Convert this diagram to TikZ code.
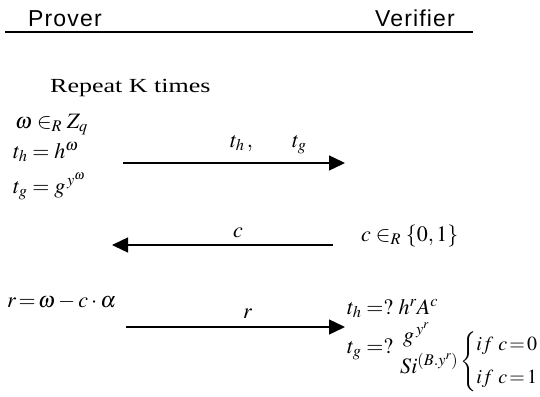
\documentclass[tikz,border=0pt]{standalone}
\usepackage{mathptmx}
\usepackage{fontspec}
\setmainfont{Liberation Serif}
\setsansfont{Liberation Sans}
\usetikzlibrary{arrows.meta}
\begin{document}
\begin{tikzpicture}[x=1pt,y=-1pt,
  hdr/.style={font=\sffamily\fontsize{23}{27}\selectfont\addfontfeature{LetterSpace=5}, inner sep=0pt},
  txt/.style={font=\fontsize{22}{26}\selectfont, inner sep=0pt, anchor=base west},
  msg/.style={line width=1.4pt, -{Triangle[length=16pt,width=15pt]}}]
\useasboundingbox (0,0) rectangle (540,396);
% header
\node[hdr, anchor=base west] (prover) at (28,27) {Prover};
\node[hdr, anchor=base east] (verifier) at (455,27) {Verifier};
\coordinate (hl) at (5,32);
\coordinate (hr) at (473,32);
\draw[line width=1.8pt] (hl) -- (hr);
% repeat
\node[txt, font=\fontsize{20}{24}\selectfont] (rep) at (50,92) {\scalebox{1.3}[1]{Repeat K times}};
% prover side
\node[txt] (w) at (15,128) {$\omega \in_R Z_q$};
\node[txt] (th) at (13,158) {$t_h = h^{\omega}$};
\node[txt] (tg) at (13,193) {$t_g = g^{\,y^{\omega}}$};
\node[txt] (rr) at (7,307) {$r\!=\!\omega - c\cdot\alpha$};
% message 1
\coordinate (m1s) at (123,163);
\coordinate (m1e) at (345,163);
\draw[msg] (m1s) -- (m1e);
\node[txt] (l1a) at (230,147) {$t_h\,,$};
\node[txt] (l1b) at (292,147) {$t_g$};
% message 2
\coordinate (m2s) at (333,245);
\coordinate (m2e) at (112,245);
\draw[msg] (m2s) -- (m2e);
\node[txt] (l2) at (233,237) {$c$};
\node[txt] (cv) at (361,241) {$c \in_R \{0,1\}$};
% message 3
\coordinate (m3s) at (126,327);
\coordinate (m3e) at (345,327);
\draw[msg] (m3s) -- (m3e);
\node[txt] (l3) at (243,318) {$r$};
% verifier checks
\node[txt] (vth) at (347,314) {$t_h = ?\ h^r A^c$};
\node[txt] (vtg) at (347,353) {$t_g = ?$};
\node[txt] (g1) at (403,342) {$g^{\,y^r}$};
\node[txt] (g2) at (400,373) {$Si^{(B.y^r)}$};
\node[txt, anchor=west, font=\fontsize{20}{24}\selectfont] (cases) at (460,362)
  {$\thickmuskip=2mu\arraycolsep=0pt\nulldelimiterspace=0pt
    \left\{\begin{array}{l} if\ c=0\\[9pt] if\ c=1\end{array}\right.$};
\end{tikzpicture}
\end{document}
